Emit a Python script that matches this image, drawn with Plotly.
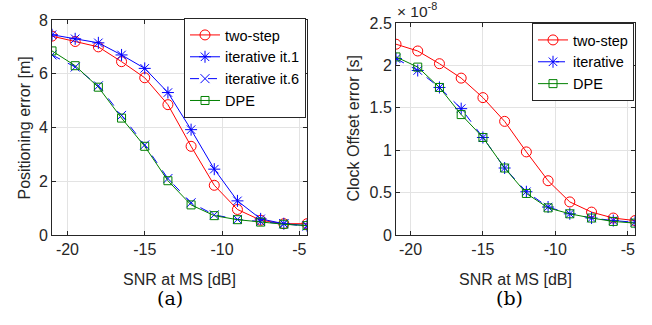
import plotly.graph_objects as go

snr = [-21, -19.5, -18, -16.5, -15, -13.5, -12, -10.5, -9, -7.5, -6, -4.5]

# (a) positioning error [m]
pos_two_step = [7.4, 7.2, 7.0, 6.45, 5.85, 4.85, 3.3, 1.85, 0.95, 0.55, 0.42, 0.42]
pos_iter1 = [7.45, 7.3, 7.15, 6.7, 6.2, 5.3, 3.92, 2.45, 1.27, 0.6, 0.42, 0.35]
pos_iter6 = [6.7, 6.25, 5.55, 4.45, 3.35, 2.1, 1.2, 0.75, 0.58, 0.5, 0.42, 0.33]
pos_dpe = [6.85, 6.3, 5.5, 4.35, 3.3, 2.02, 1.12, 0.72, 0.57, 0.48, 0.4, 0.35]

# (b) clock offset error [x 1e-8 s]
clk_two_step = [2.25, 2.17, 2.02, 1.85, 1.62, 1.34, 0.98, 0.64, 0.39, 0.27, 0.2, 0.17]
clk_iter = [2.08, 1.94, 1.74, 1.49, 1.15, 0.79, 0.51, 0.33, 0.25, 0.2, 0.17, 0.15]
clk_dpe = [2.1, 1.98, 1.74, 1.42, 1.15, 0.79, 0.49, 0.32, 0.25, 0.2, 0.16, 0.14]

x_ticks = [-20, -15, -10, -5]
x_ticklabels = ["-20", "-15", "-10", "-5"]
pos_ticks = [0, 2, 4, 6, 8]
clk_ticks = [0, 0.5, 1, 1.5, 2, 2.5]
clk_ticklabels = ["0", "0.5", "1", "1.5", "2", "2.5"]

RED = "#ff0000"
BLUE = "#0000ff"
GREEN = "#008000"
AX = "#262626"
FONT = "Liberation Sans, Arial, sans-serif"
SERIF = "DejaVu Serif, serif"

fig = go.Figure()

def add(x, y, name, color, symbol, size, dash, xa, ya, legend):
    fig.add_trace(go.Scatter(
        x=x, y=y, name=name, mode="lines+markers",
        line=dict(color=color, width=1, dash=dash),
        marker=dict(symbol=symbol, size=size, color=color,
                    line=dict(color=color, width=1)),
        xaxis=xa, yaxis=ya, legend=legend))

add(snr, pos_two_step, "two-step", RED, "circle-open", 10, "solid", "x", "y", "legend")
add(snr, pos_iter1, "iterative it.1", BLUE, "asterisk-open", 10, "solid", "x", "y", "legend")
add(snr, pos_iter6, "iterative it.6", BLUE, "x-thin-open", 9, "dash", "x", "y", "legend")
add(snr, pos_dpe, "DPE", GREEN, "square-open", 8, "solid", "x", "y", "legend")

add(snr, clk_two_step, "two-step", RED, "circle-open", 10, "solid", "x2", "y2", "legend2")
add(snr, clk_iter, "iterative", BLUE, "asterisk-open", 10, "dash", "x2", "y2", "legend2")
add(snr, clk_dpe, "DPE", GREEN, "square-open", 8, "solid", "x2", "y2", "legend2")

W, H = 652, 325
def px(v): return v / W
def py(v): return 1 - v / H

axcommon = dict(showline=True, linecolor=AX, linewidth=1, mirror="allticks",
                ticks="inside", ticklen=4, tickcolor=AX, automargin=False,
                showgrid=True, gridcolor="#e3e3e3", gridwidth=1, zeroline=False,
                tickfont=dict(family=FONT, size=16, color=AX))

fig.update_layout(
    width=W, height=H, margin=dict(l=0, r=0, t=0, b=0, autoexpand=False),
    paper_bgcolor="white", plot_bgcolor="white",
    font=dict(family=FONT, color=AX),
    xaxis=dict(domain=[px(52), px(307)], range=[-21, -4.5], tickvals=x_ticks,
               ticktext=x_ticklabels, anchor="y", **axcommon),
    yaxis=dict(domain=[py(235), py(20)], range=[0, 8], tickvals=pos_ticks, anchor="x",
               **axcommon),
    xaxis2=dict(domain=[px(396), px(635)], range=[-21, -4.5], tickvals=x_ticks,
                ticktext=x_ticklabels, anchor="y2", **axcommon),
    yaxis2=dict(domain=[py(235), py(23)], range=[0, 2.5],
                tickvals=clk_ticks, ticktext=clk_ticklabels, anchor="x2", **axcommon),
    legend=dict(x=px(306), y=py(18), xanchor="right", yanchor="top",
                bgcolor="white", bordercolor=AX, borderwidth=1,
                font=dict(family=FONT, size=14.5, color="black"), tracegroupgap=0),
    legend2=dict(x=px(634), y=py(23), xanchor="right", yanchor="top",
                 bgcolor="white", bordercolor=AX, borderwidth=1,
                 font=dict(family=FONT, size=14.5, color="black"), tracegroupgap=0),
    showlegend=True,
)

def ann(x, y, text, size, family=FONT, color=AX, angle=0, xanchor="center", yanchor="middle"):
    fig.add_annotation(x=px(x), y=py(y), xref="paper", yref="paper",
                       xanchor=xanchor, yanchor=yanchor, textangle=angle,
                       text=text, showarrow=False,
                       font=dict(family=family, size=size, color=color))

ann(179.5, 279, "SNR at MS [dB]", 16)
ann(515.5, 279, "SNR at MS [dB]", 16)
ann(23.5, 128, "Positioning error [m]", 16, angle=-90)
ann(352.5, 129, "Clock Offset error [s]", 16, angle=-90)
ann(395, 22, "× 10<sup>-8</sup>", 15.5, xanchor="left", yanchor="bottom")
ann(170, 298, "(a)", 19, family=SERIF, color="black")
ann(509, 298, "(b)", 19, family=SERIF, color="black")

fig.write_html("out.html",
               config={"displayModeBar": False},
               post_script="document.body.style.margin='0';document.body.style.overflow='hidden';")
